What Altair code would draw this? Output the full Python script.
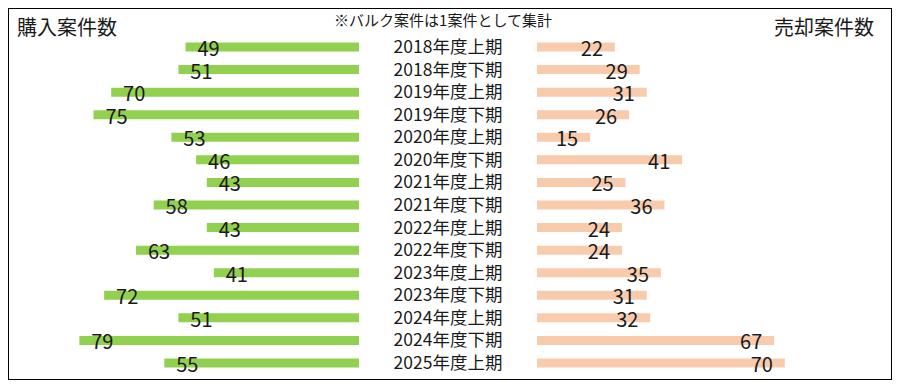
import altair as alt
import pandas as pd

periods = ["2018年度上期", "2018年度下期", "2019年度上期", "2019年度下期",
           "2020年度上期", "2020年度下期", "2021年度上期", "2021年度下期",
           "2022年度上期", "2022年度下期", "2023年度上期", "2023年度下期",
           "2024年度上期", "2024年度下期", "2025年度上期"]
purchases = [49, 51, 70, 75, 53, 46, 43, 58, 43, 63, 41, 72, 51, 79, 55]
sales = [22, 29, 31, 26, 15, 41, 25, 36, 24, 24, 35, 31, 32, 67, 70]

left_title = "購入案件数"
right_title = "売却案件数"
note = "※バルク案件は1案件として集計"

df = pd.DataFrame({"period": periods, "buy": purchases, "sell": sales})

W, H = 884, 372
FONT = "Noto Sans CJK JP"
GREEN = "#92D050"
PEACH = "#F8CBAD"

n = len(periods)
step = 22.57
y_top = 39 - step / 2
y_bot = y_top + step * n
pi = 1 - 9 / step
yscale = alt.Scale(domain=periods, range=[y_top, y_bot], paddingInner=pi, paddingOuter=pi / 2)
y_enc = alt.Y("period:N", scale=yscale, axis=None)

# left: zero at px 351, 3.54 px per unit, growing leftwards
k = 3.54
left_scale = alt.Scale(domain=[(351 - W) / k, 351 / k], reverse=True, nice=False, zero=False)
right_scale = alt.Scale(domain=[-529 / k, (W - 529) / k], nice=False, zero=False)

base = alt.Chart(df)

left_bars = base.mark_bar(color=GREEN).encode(
    x=alt.X("zero:Q", scale=left_scale, axis=None),
    x2="buy:Q",
    y=y_enc,
).transform_calculate(zero="0")

left_text = base.mark_text(font=FONT, fontSize=20, color="#1a1a1a", dx=23, dy=3, align="center").encode(
    x=alt.X("buy:Q", scale=left_scale, axis=None),
    y=y_enc,
    text="buy:Q",
)

right_bars = base.mark_bar(color=PEACH).encode(
    x=alt.X("zero:Q", scale=right_scale, axis=None),
    x2="sell:Q",
    y=y_enc,
).transform_calculate(zero="0")

right_text = base.mark_text(font=FONT, fontSize=20, color="#1a1a1a", dx=-23, dy=3, align="center").encode(
    x=alt.X("sell:Q", scale=right_scale, axis=None),
    y=y_enc,
    text="sell:Q",
)

mid_text = base.mark_text(font=FONT, fontSize=17.5, color="#1a1a1a", align="center", dy=1).encode(
    x=alt.value(440),
    y=y_enc,
    text="period:N",
)

h_left = alt.Chart(pd.DataFrame({"t": [left_title]})).mark_text(
    font=FONT, fontSize=20, align="left", color="#1a1a1a").encode(
    x=alt.value(9), y=alt.value(21), text="t:N")
h_right = alt.Chart(pd.DataFrame({"t": [right_title]})).mark_text(
    font=FONT, fontSize=20, align="right", color="#1a1a1a").encode(
    x=alt.value(866), y=alt.value(21), text="t:N")
h_note = alt.Chart(pd.DataFrame({"t": [note]})).mark_text(
    font=FONT, fontSize=15, align="center", color="#1a1a1a").encode(
    x=alt.value(435), y=alt.value(13), text="t:N")

chart = alt.layer(
    left_bars, left_text, right_bars, right_text, mid_text, h_left, h_right, h_note
).resolve_scale(x="independent").properties(
    width=W, height=H, autosize=alt.AutoSizeParams(type="none"), padding=0
).configure_view(stroke="black", strokeWidth=2)

chart.save("out.html", embed_options={"renderer": "svg", "actions": False})
